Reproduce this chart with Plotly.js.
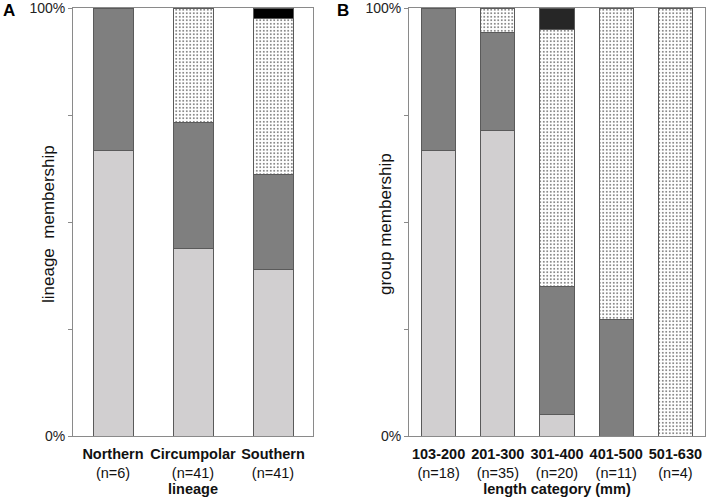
<!DOCTYPE html>
<html>
<head>
<meta charset="utf-8">
<script src="https://cdn.plot.ly/plotly-3.0.1.min.js"></script>
<style>html,body{margin:0;padding:0;background:#fff;}#chart{width:708px;height:499px;}</style>
</head>
<body>
<div id="chart"></div>
<script>
// Panel A: lineage membership (%)
const lineageCats = ['Northern', 'Circumpolar', 'Southern'];
const lineageN = [6, 41, 41];
const lineageLight = [66.7, 43.9, 39.0];
const lineageDark = [33.3, 29.3, 22.0];
const lineageDotted = [0, 26.8, 36.6];
const lineageBlack = [0, 0, 2.4];

// Panel B: group membership by length category (%)
const lengthCats = ['103-200', '201-300', '301-400', '401-500', '501-630'];
const lengthN = [18, 35, 20, 11, 4];
const lengthLight = [66.7, 71.4, 5.0, 0, 0];
const lengthDark = [33.3, 22.9, 30.0, 27.3, 0];
const lengthDotted = [0, 5.7, 60.0, 72.7, 100];
const lengthBlack = [0, 0, 5.0, 0, 0];

const yTickVals = [0, 25, 50, 75, 100];
const yTickText = ['0%', '', '', '', '100%'];

const W = 708, H = 499, T = 8, B = 63;
const px2x = p => p / W;
const px2y = p => (H - B - p) / (H - T - B);

const FONT = '"Liberation Sans", Arial, sans-serif';
const outline = {color: '#5a5a5a', width: 1};

function series(cats, vals, xa, ya, style, width) {
  return Object.assign({
    type: 'bar', x: cats, y: vals, xaxis: xa, yaxis: ya, width: width,
    showlegend: false, hoverinfo: 'skip'
  }, style);
}
const light = {marker: {color: '#d1cfd0', line: outline}};
const dark = {marker: {color: '#7f7f7f', line: outline}};
const dotted = {marker: {color: '#ffffff', line: outline,
  pattern: {shape: '.', fgcolor: '#6e6e6e', bgcolor: '#ffffff', size: 3.5, solidity: 0.22}}};
const blackA = {marker: {color: '#000000', line: outline}};
const blackB = {marker: {color: '#262626', line: outline}};

const data = [
  series(lineageCats, lineageLight, 'x', 'y', light, 0.5),
  series(lineageCats, lineageDark, 'x', 'y', dark, 0.5),
  series(lineageCats, lineageDotted, 'x', 'y', dotted, 0.5),
  series(lineageCats, lineageBlack, 'x', 'y', blackA, 0.5),
  series(lengthCats, lengthLight, 'x2', 'y2', light, 0.575),
  series(lengthCats, lengthDark, 'x2', 'y2', dark, 0.575),
  series(lengthCats, lengthDotted, 'x2', 'y2', dotted, 0.575),
  series(lengthCats, lengthBlack, 'x2', 'y2', blackB, 0.575)
];

const tickLabels = (cats, ns) => cats.map((c, i) => '<b>' + c + '</b><br>(n=' + ns[i] + ')');

const xCommon = {
  type: 'category', showline: true, mirror: true, linecolor: '#8a8a8a', linewidth: 1,
  ticks: '', showgrid: false, zeroline: false, fixedrange: true,
  ticklabelstandoff: 5,
  tickfont: {family: FONT, size: 14.5, color: '#111'}
};
const yCommon = {
  range: [0, 100], tickvals: yTickVals, ticktext: yTickText,
  showline: true, mirror: true, linecolor: '#8a8a8a', linewidth: 1,
  ticks: 'outside', ticklen: 4, tickcolor: '#8a8a8a',
  ticklabeloverflow: 'allow',
  showgrid: false, zeroline: false, fixedrange: true,
  tickfont: {family: FONT, size: 14, color: '#222'}
};

const layout = {
  width: W, height: H,
  margin: {l: 0, r: 0, t: T, b: B, pad: 0},
  paper_bgcolor: '#fff', plot_bgcolor: '#fff',
  barmode: 'stack',
  font: {family: FONT, color: '#111'},
  xaxis: Object.assign({}, xCommon, {
    domain: [px2x(73), px2x(313)], anchor: 'y',
    tickvals: lineageCats, ticktext: tickLabels(lineageCats, lineageN),
    title: {text: '<b>lineage</b>', font: {family: FONT, size: 14.5, color: '#111'}, standoff: 2}
  }),
  yaxis: Object.assign({}, yCommon, {domain: [0, 1], anchor: 'x'}),
  xaxis2: Object.assign({}, xCommon, {
    domain: [px2x(409), px2x(705)], anchor: 'y2',
    tickvals: lengthCats, ticktext: tickLabels(lengthCats, lengthN),
    title: {text: '<b>length category (mm)</b>', font: {family: FONT, size: 14.5, color: '#111'}, standoff: 2}
  }),
  yaxis2: Object.assign({}, yCommon, {domain: [0, 1], anchor: 'x2'}),
  annotations: [
    {text: '<b>A</b>', xref: 'paper', yref: 'paper', x: px2x(9), y: px2y(11),
     xanchor: 'center', yanchor: 'middle', showarrow: false,
     font: {family: FONT, size: 17, color: '#000'}},
    {text: '<b>B</b>', xref: 'paper', yref: 'paper', x: px2x(343), y: px2y(11),
     xanchor: 'center', yanchor: 'middle', showarrow: false,
     font: {family: FONT, size: 17, color: '#000'}},
    {text: 'lineage\u00a0 membership', xref: 'paper', yref: 'paper', x: px2x(48), y: px2y(224),
     xanchor: 'center', yanchor: 'middle', textangle: -90, showarrow: false,
     font: {family: FONT, size: 17, color: '#111'}},
    {text: 'group membership', xref: 'paper', yref: 'paper', x: px2x(385), y: px2y(224),
     xanchor: 'center', yanchor: 'middle', textangle: -90, showarrow: false,
     font: {family: FONT, size: 17, color: '#111'}}
  ]
};

Plotly.newPlot('chart', data, layout, {staticPlot: true, displayModeBar: false});
</script>
</body>
</html>
